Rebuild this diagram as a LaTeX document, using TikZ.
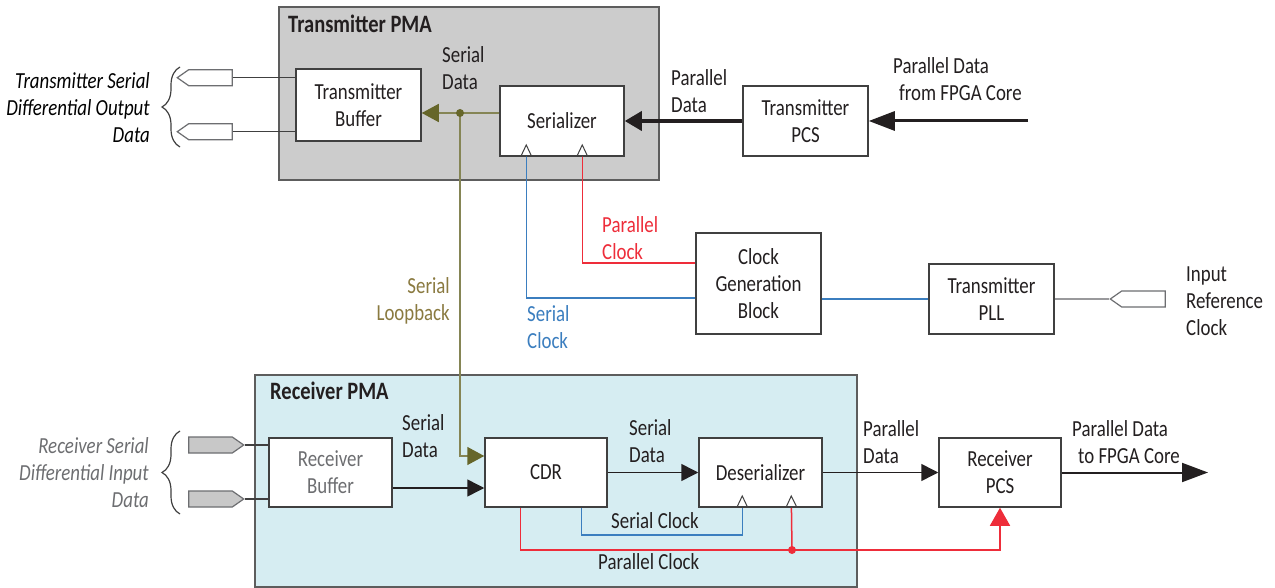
\documentclass[tikz,border=0pt]{standalone}
\usepackage{fontspec}
\setmainfont{Carlito}[FakeStretch=0.82]
\usepackage{tikz}
\usetikzlibrary{shapes.symbols, arrows.meta, positioning, calc, decorations.pathreplacing}
\definecolor{xrtext}{HTML}{231F20}
\definecolor{xrline}{HTML}{404040}
\definecolor{xrgrey}{HTML}{6D6E71}
\definecolor{xrtxbg}{HTML}{CCCCCC}
\definecolor{xrrxbg}{HTML}{D6EDF2}
\definecolor{xrolive}{HTML}{66662A}
\definecolor{xrloop}{HTML}{8A7A40}
\definecolor{xrblue}{HTML}{3B7EBF}
\definecolor{xrred}{HTML}{EE2D3A}
\definecolor{xrpin}{HTML}{C8C8C8}
\newcommand{\xrsize}{\fontsize{23pt}{27pt}\selectfont}
\tikzset{
  blk/.style={rectangle, draw=xrline, fill=white, line width=1.5pt, text=xrtext,
              align=center, inner sep=0pt},
  pma/.style={rectangle, draw=xrline!85, line width=1.5pt, inner sep=0pt},
  ttl/.style={font=\fontsize{25pt}{29pt}\selectfont\bfseries, text=xrtext, anchor=base west, inner sep=0pt},
  lbl/.style={text=xrtext, align=left, anchor=base west, inner sep=0pt},
  side/.style={font=\xrsize\itshape, align=right, anchor=base east, inner sep=0pt},
  pin/.style={signal, draw=xrgrey, line width=1.2pt, minimum width=55pt, minimum height=16pt,
              inner sep=0pt, signal pointer angle=70},
  wire/.style={draw=xrline, line width=1.5pt},
  dat/.style={-{Triangle[length=17pt, width=17pt]}, draw=xrtext, line width=1.5pt},
  bus/.style={-{Triangle[length=17pt, width=19pt]}, draw=xrtext, line width=3.5pt},
  core/.style={-{Triangle[length=26pt, width=19pt]}, draw=xrtext, line width=3pt},
  clkin/.style={-{Triangle[open, length=13pt, width=12pt, color=xrline, line width=1pt]}},
  sclk/.style={draw=xrblue, line width=1.5pt},
  pclk/.style={draw=xrred, line width=1.5pt},
  lpbk/.style={draw=xrolive!80, line width=1.5pt},
  lptip/.style={-{Triangle[length=17pt, width=18pt, color=xrolive]}},
  brc/.style={decorate, decoration={brace, amplitude=18pt, aspect=0.5}, draw=xrline, line width=1.2pt},
}

\begin{document}
\begin{tikzpicture}[x=1pt, y=-1pt, every node/.style={font=\xrsize}]
  \useasboundingbox[fill=white] (0,0) rectangle (1275,588);

  % transmitter
  \node[pma, fill=xrtxbg, minimum width=380pt, minimum height=173pt] (txpma) at (469,93.5) {};
  \node[ttl] (txttl) at (288,33) {Transmitter PMA};
  \node[blk, minimum width=125pt, minimum height=72pt] (txbuf) at (358.5,105) {Transmitter\\Buffer};
  \node[blk, minimum width=124pt, minimum height=70pt] (ser) at (562,121) {Serializer};
  \node[blk, minimum width=125pt, minimum height=70pt] (txpcs) at (805.5,121) {Transmitter\\PCS};
  \node[blk, minimum width=125pt, minimum height=101pt] (cgb) at (758.5,283.5) {Clock\\Generation\\Block};
  \node[blk, minimum width=125pt, minimum height=70pt] (pll) at (991.5,299) {Transmitter\\PLL};

  \node[pin, signal to=west, fill=white] (txp1) at (210.5,77.7) {};
  \node[pin, signal to=west, fill=white] (txp2) at (210.5,131.7) {};
  \node[pin, signal to=west, fill=white] (refpin) at (1143.5,299) {};

  \node[side] (txlab) at (150,143) {Transmitter Serial\\Differential Output\\Data};
  \draw[brc] (180,147) -- (180,67);
  \node[lbl] (txsd) at (442,90) {Serial\\Data};
  \node[lbl] (txpd) at (671,113) {Parallel\\Data};
  \node[lbl] (txcore) at (893,101) {Parallel Data\\\hspace*{6pt}from FPGA Core};
  \node[lbl, text=xrred] (pclab) at (602,260) {Parallel\\Clock};
  \node[lbl, text=xrblue] (sclab) at (527,348) {Serial\\Clock};
  \node[lbl, text=xrloop, align=right, anchor=base east] (lplab) at (450,320) {Serial\\Loopback};
  \node[lbl] (reflab) at (1186,335) {Input\\Reference\\Clock};

  % receiver
  \node[pma, fill=xrrxbg, minimum width=602pt, minimum height=212pt] (rxpma) at (556,481) {};
  \node[ttl] (rxttl) at (270,399) {Receiver PMA};
  \node[blk, text=xrgrey, minimum width=123pt, minimum height=69pt] (rxbuf) at (330.5,472.5) {Receiver\\Buffer};
  \node[blk, minimum width=122pt, minimum height=69pt] (cdr) at (546,472.5) {CDR};
  \node[blk, minimum width=123pt, minimum height=69pt] (des) at (760.5,472.5) {Deserializer};
  \node[blk, minimum width=122pt, minimum height=69pt] (rxpcs) at (1000,472.5) {Receiver\\PCS};

  \node[pin, signal to=east, fill=xrpin] (rxp1) at (210.5,445) {};
  \node[pin, signal to=east, fill=xrpin] (rxp2) at (210.5,499) {};

  \node[side, text=xrgrey] (rxlab) at (149,507) {Receiver Serial\\Differential Input\\Data};
  \draw[brc] (180,514) -- (180,431);
  \node[lbl] (rxsd) at (402,457) {Serial\\Data};
  \node[lbl] (cdrsd) at (629,462) {Serial\\Data};
  \node[lbl] (rxpd) at (863,463) {Parallel\\Data};
  \node[lbl] (rxcore) at (1072,463) {Parallel Data\\\hspace*{6pt}to FPGA Core};
  \node[lbl] (rxsclab) at (611,528) {Serial Clock};
  \node[lbl] (rxpclab) at (598,569) {Parallel Clock};

  \coordinate (txin) at (1028,121);
  \coordinate (rxout) at (1208,472.5);
  \coordinate (sdat) at (460,113);
  \coordinate (pdot) at (792,550);

  % transmitter connectors
  \draw[wire] (txp1.east) -- (txbuf.west |- txp1.east);
  \draw[wire] (txp2.east) -- (txbuf.west |- txp2.east);
  \draw[core] (txin) -- (txpcs.east);
  \draw[bus] (txpcs) -- (ser);
  \draw[lpbk, lptip] (ser.west |- sdat) -- (txbuf.east |- sdat);
  \draw[lpbk, lptip] (sdat) |- ($(cdr.west)+(0,-16.5)$);
  \fill[xrolive] (sdat) circle (4);
  \draw[sclk, clkin] ($(cgb.west)+(0,14.5)$) -| ($(ser.south west)+(27,-13)$);
  \draw[pclk, clkin] ($(cgb.west)+(0,-20.5)$) -| ($(ser.south west)+(83,-13)$);
  \draw[sclk] (cgb.east |- pll.west) -- (pll.west);
  \draw[wire, draw=xrgrey!70] (pll.east) -- (refpin.west);

  % receiver connectors
  \draw[wire] (rxp1.east) -- (rxbuf.west |- rxp1.east);
  \draw[wire] (rxp2.east) -- (rxbuf.west |- rxp2.east);
  \draw[dat] ($(rxbuf.east)+(0,15.5)$) -- ($(cdr.west)+(0,15.5)$);
  \draw[dat] (cdr) -- (des);
  \draw[dat] (des) -- (rxpcs);
  \draw[core, line width=2pt] (rxpcs) -- (rxout);
  \draw[sclk, clkin] ($(cdr.south west)+(97,0)$) -- ++(0,27) -| ($(des.south west)+(44,-13)$);
  \draw[pclk, -{Triangle[length=18pt, width=20pt]}] ($(cdr.south west)+(36,0)$) |- (pdot) -| (rxpcs.south);
  \draw[pclk, clkin] (pdot) -- ($(des.south west)+(93,-13)$);
  \fill[xrred] (pdot) circle (4);
\end{tikzpicture}
\end{document}
